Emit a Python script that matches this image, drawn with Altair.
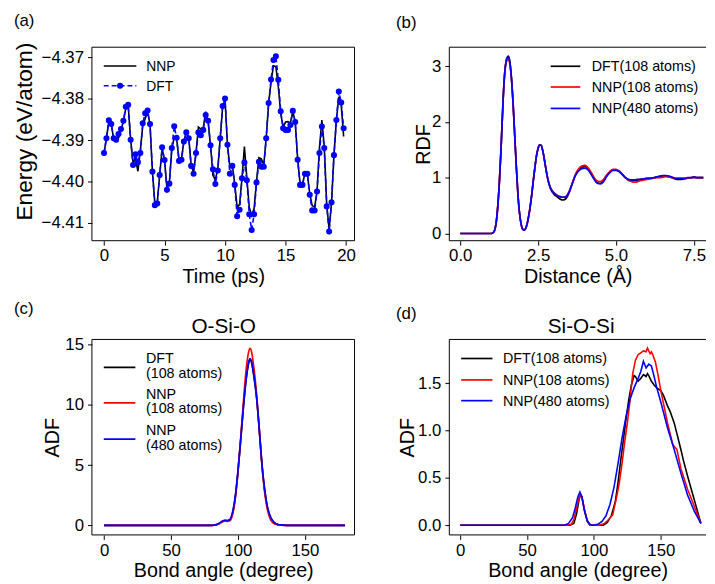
import altair as alt
import pandas as pd

FONT = "Liberation Sans"
BLACK, RED, BLUE = "#000000", "#ff0000", "#0000ff"

# ---------------- (a) energy trajectory ----------------
time_ps = [0.0, 0.2, 0.4, 0.6, 0.8, 1.0, 1.2, 1.4, 1.6, 1.8,
           2.0, 2.2, 2.4, 2.6, 2.8, 3.0, 3.2, 3.4, 3.6, 3.8,
           4.0, 4.2, 4.4, 4.6, 4.8, 5.0, 5.2, 5.4, 5.6, 5.8,
           6.0, 6.2, 6.4, 6.6, 6.8, 7.0, 7.2, 7.4, 7.6, 7.8,
           8.0, 8.2, 8.4, 8.6, 8.8, 9.0, 9.2, 9.4, 9.6, 9.8,
           10.0, 10.2, 10.4, 10.6, 10.8, 11.0, 11.2, 11.4, 11.6, 11.8,
           12.0, 12.2, 12.4, 12.6, 12.8, 13.0, 13.2, 13.4, 13.6, 13.8,
           14.0, 14.2, 14.4, 14.6, 14.8, 15.0, 15.2, 15.4, 15.6, 15.8,
           16.0, 16.2, 16.4, 16.6, 16.8, 17.0, 17.2, 17.4, 17.6, 17.8,
           18.0, 18.2, 18.4, 18.6, 18.8, 19.0, 19.2, 19.4, 19.6, 19.8]

energy_dft = [-4.3931, -4.3895, -4.3852, -4.3861, -4.3895, -4.3899, -4.3885, -4.3873, -4.3853, -4.3819,
              -4.3814, -4.3899, -4.3960, -4.3934, -4.3953, -4.3931, -4.3859, -4.3835, -4.3828, -4.3861,
              -4.3976, -4.4057, -4.4053, -4.3984, -4.3917, -4.3948, -4.4020, -4.4005, -4.3919, -4.3866,
              -4.3894, -4.3950, -4.3947, -4.3903, -4.3881, -4.3895, -4.3962, -4.3981, -4.3931, -4.3881,
              -4.3888, -4.3875, -4.3839, -4.3853, -4.3912, -4.3970, -4.4006, -4.3973, -4.3895, -4.3817,
              -4.3799, -4.3911, -4.3981, -4.3962, -4.4008, -4.4084, -4.4068, -4.3992, -4.3954, -4.3997,
              -4.4079, -4.4117, -4.4079, -4.4002, -4.3952, -4.3964, -4.3964, -4.3895, -4.3810, -4.3753,
              -4.3706, -4.3697, -4.3754, -4.3830, -4.3871, -4.3875, -4.3875, -4.3863, -4.3829, -4.3856,
              -4.3947, -4.4008, -4.4008, -4.3981, -4.3981, -4.4032, -4.4070, -4.4070, -4.4024, -4.3931,
              -4.3867, -4.3919, -4.4060, -4.4121, -4.4050, -4.3936, -4.3851, -4.3782, -4.3809, -4.3871]

energy_nnp = [-4.3931, -4.3895, -4.3855, -4.3862, -4.3897, -4.3903, -4.3895, -4.3875, -4.3855, -4.3822,
              -4.3818, -4.3899, -4.3955, -4.3945, -4.3975, -4.3925, -4.3865, -4.3848, -4.3832, -4.3861,
              -4.3976, -4.4052, -4.4050, -4.3984, -4.3920, -4.3948, -4.4015, -4.4002, -4.3922, -4.3893,
              -4.3897, -4.3948, -4.3945, -4.3903, -4.3881, -4.3893, -4.3960, -4.3978, -4.3931, -4.3868,
              -4.3873, -4.3870, -4.3831, -4.3855, -4.3912, -4.3985, -4.3995, -4.3970, -4.3895, -4.3820,
              -4.3802, -4.3911, -4.3965, -4.3960, -4.4005, -4.4062, -4.4055, -4.3992, -4.3915, -4.3990,
              -4.4062, -4.4082, -4.4065, -4.4000, -4.3942, -4.3945, -4.3960, -4.3895, -4.3812, -4.3760,
              -4.3720, -4.3722, -4.3770, -4.3835, -4.3868, -4.3856, -4.3855, -4.3858, -4.3830, -4.3856,
              -4.3945, -4.4005, -4.4005, -4.3981, -4.3981, -4.4030, -4.4058, -4.4062, -4.4024, -4.3918,
              -4.3851, -4.3915, -4.4055, -4.4115, -4.4050, -4.3936, -4.3851, -4.3795, -4.3815, -4.3891]

# ---------------- (b) RDF ----------------
r_grid = [0.0, 0.5, 1.0, 1.05, 1.1, 1.15, 1.2, 1.25, 1.3, 1.35, 1.4, 1.45, 1.5, 1.55, 1.6, 1.65,
          1.7, 1.75, 1.8, 1.85, 1.9, 1.95, 2.0, 2.05, 2.1, 2.15, 2.2, 2.25, 2.3, 2.35, 2.4, 2.45,
          2.5, 2.55, 2.6, 2.65, 2.7, 2.75, 2.8, 2.85, 2.9,
          3.0, 3.1, 3.2, 3.3, 3.4, 3.5, 3.6, 3.7, 3.8, 3.9,
          4.0, 4.1, 4.2, 4.3, 4.4, 4.5, 4.6, 4.7, 4.8, 4.9,
          5.0, 5.1, 5.2, 5.3, 5.4, 5.5, 5.6, 5.7, 5.8, 5.9,
          6.0, 6.1, 6.2, 6.3, 6.4, 6.5, 6.6, 6.7, 6.8, 6.9,
          7.0, 7.1, 7.2, 7.3, 7.4, 7.5, 7.6, 7.7, 7.8]

rdf_dft = [0, 0, 0, 0.01, 0.05, 0.18, 0.45, 0.85, 1.4, 2.05, 2.65, 3.0, 3.15, 3.18, 3.05, 2.75,
           2.3, 1.75, 1.2, 0.72, 0.38, 0.18, 0.08, 0.06, 0.09, 0.18, 0.32, 0.5, 0.72, 0.97, 1.2, 1.4,
           1.53, 1.59, 1.58, 1.48, 1.33, 1.16, 1.0, 0.88, 0.8,
           0.71, 0.66, 0.62, 0.6, 0.63, 0.74, 0.9, 1.05, 1.14, 1.19,
           1.2, 1.16, 1.08, 0.98, 0.91, 0.9, 0.95, 1.04, 1.1, 1.14,
           1.14, 1.11, 1.06, 1.0, 0.96, 0.95, 0.95, 0.96, 0.97, 0.98,
           0.99, 0.99, 1.0, 1.01, 1.02, 1.03, 1.03, 1.02, 1.0, 0.98,
           0.97, 0.97, 0.98, 0.99, 1.0, 1.01, 1.0, 1.0, 1.0]

rdf_nnp108 = [0, 0, 0, 0.01, 0.05, 0.18, 0.45, 0.85, 1.4, 2.05, 2.65, 3.0, 3.1, 3.12, 3.0, 2.72,
              2.28, 1.75, 1.2, 0.72, 0.38, 0.18, 0.08, 0.06, 0.09, 0.18, 0.32, 0.5, 0.72, 0.97, 1.2, 1.4,
              1.53, 1.59, 1.58, 1.48, 1.33, 1.16, 1.01, 0.9, 0.82,
              0.74, 0.69, 0.66, 0.65, 0.67, 0.76, 0.91, 1.06, 1.16, 1.21,
              1.22, 1.18, 1.1, 1.0, 0.94, 0.93, 0.97, 1.05, 1.11, 1.15,
              1.15, 1.12, 1.06, 1.0, 0.95, 0.93, 0.92, 0.93, 0.95, 0.96,
              0.97, 0.98, 0.99, 1.0, 1.0, 1.01, 1.02, 1.01, 1.0, 0.99,
              0.99, 0.99, 0.99, 0.99, 1.0, 1.0, 1.0, 1.0, 1.0]

rdf_nnp480 = [0, 0, 0, 0.01, 0.05, 0.18, 0.45, 0.85, 1.4, 2.05, 2.65, 3.0, 3.14, 3.16, 3.04, 2.74,
              2.3, 1.75, 1.2, 0.72, 0.38, 0.18, 0.08, 0.06, 0.09, 0.18, 0.32, 0.5, 0.72, 0.97, 1.2, 1.4,
              1.53, 1.59, 1.58, 1.48, 1.33, 1.16, 1.01, 0.89, 0.81,
              0.73, 0.68, 0.66, 0.65, 0.66, 0.75, 0.9, 1.04, 1.12, 1.16,
              1.17, 1.14, 1.06, 0.97, 0.9, 0.89, 0.93, 1.02, 1.09, 1.13,
              1.13, 1.11, 1.06, 1.0, 0.97, 0.96, 0.96, 0.97, 0.97, 0.98,
              0.99, 0.99, 1.0, 1.01, 1.03, 1.04, 1.04, 1.03, 1.01, 0.99,
              0.99, 0.99, 0.99, 1.0, 1.0, 1.01, 1.0, 1.0, 1.0]

# ---------------- (c) O-Si-O ADF ----------------
osio_angle = [0, 80, 82, 84, 86, 88, 90, 92, 94, 96, 98, 100, 102, 104, 106, 108, 109, 110,
              112, 114, 116, 118, 120, 122, 124, 126, 128, 130, 132, 134, 136, 180]
osio_dft = [0, 0, 0.02, 0.06, 0.15, 0.3, 0.4, 0.38, 0.45, 1.0, 2.3, 4.4, 7.0, 9.7, 12.0, 13.5, 13.8, 13.6,
            12.3, 10.5, 7.8, 5.0, 2.9, 1.5, 0.75, 0.35, 0.15, 0.06, 0.02, 0.01, 0, 0]
osio_nnp108 = [0, 0, 0.01, 0.04, 0.12, 0.25, 0.35, 0.32, 0.38, 0.9, 2.2, 4.4, 7.2, 10.1, 12.8, 14.4, 14.7, 14.5,
               13.0, 10.8, 7.9, 4.9, 2.7, 1.3, 0.55, 0.22, 0.08, 0.03, 0.01, 0, 0, 0]
osio_nnp480 = [0, 0, 0.02, 0.07, 0.17, 0.32, 0.42, 0.4, 0.48, 1.1, 2.4, 4.5, 7.0, 9.7, 12.0, 13.5, 13.85, 13.65,
               12.4, 10.6, 7.9, 5.0, 2.95, 1.55, 0.78, 0.37, 0.16, 0.07, 0.03, 0.01, 0, 0]

# ---------------- (d) Si-O-Si ADF ----------------
siosi_dft_angle = [0, 82, 85, 87, 89, 90, 91, 93, 95, 97, 107, 110, 113, 116, 118, 120, 122, 124,
                   126, 128, 130, 131, 133, 135, 137, 139, 140, 141, 143, 145, 147, 150, 152, 155,
                   157, 160, 162, 165, 167, 170, 173, 175, 178, 180]
siosi_dft = [0, 0, 0.02, 0.12, 0.28, 0.32, 0.3, 0.15, 0.04, 0, 0, 0.03, 0.1, 0.25, 0.45, 0.68, 0.9, 1.12,
             1.32, 1.48, 1.58, 1.57, 1.52, 1.55, 1.59, 1.57, 1.6, 1.58, 1.52, 1.48, 1.45, 1.42, 1.37, 1.26,
             1.2, 1.08, 0.97, 0.8, 0.68, 0.52, 0.37, 0.27, 0.12, 0.02]
siosi_nnp108_angle = [0, 80, 83, 85, 87, 89, 90, 91, 93, 95, 97, 104, 108, 111, 114, 117, 119, 121,
                      123, 125, 127, 129, 131, 133, 135, 137, 139, 140, 141, 142, 143, 144, 146, 148,
                      150, 155, 159, 162, 165, 170, 175, 180]
siosi_nnp108 = [0, 0, 0.01, 0.06, 0.18, 0.3, 0.32, 0.3, 0.16, 0.05, 0, 0, 0.02, 0.06, 0.11, 0.3, 0.45, 0.65,
                0.88, 1.08, 1.32, 1.6, 1.74, 1.8, 1.82, 1.84, 1.83, 1.87, 1.84, 1.81, 1.83, 1.8, 1.72, 1.58,
                1.42, 1.08, 0.85, 0.8, 0.6, 0.38, 0.2, 0.02]
siosi_nnp480_angle = [0, 78, 81, 84, 86, 88, 89.5, 91, 93, 95, 97, 99, 103, 106, 109, 112, 115, 118,
                      121, 124, 127, 130, 133, 135, 137, 139, 141, 143, 145, 147, 150, 155, 160, 165,
                      170, 175, 180]
siosi_nnp480 = [0, 0, 0.02, 0.08, 0.18, 0.3, 0.35, 0.3, 0.15, 0.05, 0.01, 0, 0.01, 0.04, 0.1, 0.22, 0.4, 0.65,
                0.92, 1.15, 1.33, 1.45, 1.55, 1.62, 1.73, 1.66, 1.7, 1.68, 1.57, 1.45, 1.3, 1.03, 0.8, 0.55,
                0.32, 0.15, 0.02]

series_names = ["DFT(108 atoms)", "NNP(108 atoms)", "NNP(480 atoms)"]
series_colors = [BLACK, RED, BLUE]

# ---------------- helpers ----------------
dummy = pd.DataFrame({"k": [0]})


def frame(xs, ys):
    return pd.DataFrame({"x": xs, "y": ys})


def xy_enc(xdom, ydom, xvals, yvals, xtitle, ytitle, xfmt=None, yfmt=None,
           ytitle_pad=5, ytitle_size=20, ytitle_y=None):
    xa = dict(values=xvals, title=xtitle, titlePadding=3, labelPadding=3)
    if xfmt:
        xa["format"] = xfmt
    ya = dict(values=yvals, title=ytitle, titlePadding=ytitle_pad, labelPadding=4,
              titleFontSize=ytitle_size)
    if yfmt:
        ya["format"] = yfmt
    if ytitle_y is not None:
        ya["titleY"] = ytitle_y
    x = alt.X("x:Q", scale=alt.Scale(domain=xdom, nice=False, zero=False), axis=alt.Axis(**xa))
    y = alt.Y("y:Q", scale=alt.Scale(domain=ydom, nice=False, zero=False), axis=alt.Axis(**ya))
    return x, y


def curve(df, color, x, y, interp="monotone", width=1.7, dash=None):
    kw = dict(color=color, strokeWidth=width, interpolate=interp, clip=True)
    if dash:
        kw["strokeDash"] = dash
    return alt.Chart(df).mark_line(**kw).encode(x=x, y=y)


def hrule(x1, x2, y, color=BLACK, width=1.7, dash=None):
    kw = dict(color=color, strokeWidth=width)
    if dash:
        kw["strokeDash"] = dash
    return alt.Chart(dummy).mark_rule(**kw).encode(x=alt.value(x1), x2=alt.value(x2), y=alt.value(y))


def vrule(x, y1, y2, color=BLACK, width=1):
    return alt.Chart(dummy).mark_rule(color=color, strokeWidth=width).encode(
        x=alt.value(x), y=alt.value(y1), y2=alt.value(y2))


def txt(x, y, s, size=14.5, align="left", baseline="middle"):
    return alt.Chart(dummy).mark_text(text=s, align=align, baseline=baseline, font=FONT,
                                      fontSize=size, color=BLACK).encode(x=alt.value(x), y=alt.value(y))


def box(w, h, right=True):
    parts = [hrule(0, w, 0, width=1), hrule(0, w, h, width=1), vrule(0, 0, h)]
    if right:
        parts.append(vrule(w, 0, h))
    return parts


# ---------------- panel (a) ----------------
WA, HA = 266, 196
xa, ya = xy_enc([-1.0, 20.7], [-4.4143, -4.3675], [0, 5, 10, 15, 20],
                [-4.41, -4.40, -4.39, -4.38, -4.37], "Time (ps)", "Energy (eV/atom)",
                yfmt=".2f", ytitle_pad=5, ytitle_size=23, ytitle_y=85)
df_nnp = frame(time_ps, energy_nnp)
df_dft = frame(time_ps, energy_dft)
pa = alt.layer(
    curve(df_nnp, BLACK, xa, ya, interp="linear", width=1.6),
    curve(df_dft, BLUE, xa, ya, interp="linear", width=1.6, dash=[5, 3]),
    alt.Chart(df_dft).mark_point(filled=True, shape="circle", size=38, color=BLUE, opacity=1).encode(x=xa, y=ya),
    hrule(12, 45, 19, BLACK, 1.6),
    hrule(12, 45, 39, BLUE, 1.6, dash=[5, 3]),
    alt.Chart(dummy).mark_point(filled=True, shape="circle", size=38, color=BLUE, opacity=1).encode(
        x=alt.value(28.5), y=alt.value(39)),
    txt(55, 20.5, "NNP", 14),
    txt(55, 40.5, "DFT", 14),
    txt(-79, -26.5, "(a)", 17),
    *box(WA, HA),
).properties(width=WA, height=HA)

# ---------------- panel (b) ----------------
WB, HB = 260, 196
xb, yb = xy_enc([-0.35, 7.888], [-0.13, 3.34], [0, 2.5, 5, 7.5], [0, 1, 2, 3],
                "Distance (Å)", "RDF", xfmt=".1f", ytitle_pad=-2)
rdf_sets = [rdf_dft, rdf_nnp108, rdf_nnp480]
pb = alt.layer(
    *[curve(frame(r_grid, v), c, xb, yb) for v, c in zip(rdf_sets, series_colors)],
    *[hrule(102.7, 132.7, yy, c) for yy, c in zip([19.3, 40.3, 62], series_colors)],
    *[txt(144.3, yy, s) for yy, s in zip([20.3, 41.3, 63], series_names)],
    txt(-54, -24, "(b)", 17),
    *box(WB, HB, right=False),
).properties(width=WB, height=HB)

# ---------------- panel (c) ----------------
WC, HC = 266, 198
xc, yc = xy_enc([-9.07, 187.1], [-0.8, 15.43], [0, 50, 100, 150], [0, 5, 10, 15],
                "Bond angle (degree)", "ADF", ytitle_pad=2)
osio_sets = [osio_dft, osio_nnp108, osio_nnp480]
pc = alt.layer(
    *[curve(frame(osio_angle, v), c, xc, yc) for v, c in zip(osio_sets, series_colors)],
    *[hrule(12, 44, yy, c) for yy, c in zip([28.3, 64.3, 101], series_colors)],
    txt(54.7, 19.8, "DFT"), txt(54.7, 34.8, "(108 atoms)"),
    txt(54.7, 56, "NNP"), txt(54.7, 71, "(108 atoms)"),
    txt(54.7, 92.7, "NNP"), txt(54.7, 107.7, "(480 atoms)"),
    txt(-79, -30.5, "(c)", 17),
    txt(133.5, -7, "O-Si-O", 21, align="center", baseline="alphabetic"),
    *box(WC, HC),
).properties(width=WC, height=HC)

# ---------------- panel (d) ----------------
WD, HD = 260, 198
xd, yd = xy_enc([-8.12, 183.8], [-0.102, 1.961], [0, 50, 100, 150], [0, 0.5, 1.0, 1.5],
                "Bond angle (degree)", "ADF", yfmt=".1f", ytitle_pad=0)
siosi_sets = [(siosi_dft_angle, siosi_dft), (siosi_nnp108_angle, siosi_nnp108),
              (siosi_nnp480_angle, siosi_nnp480)]
pd_ = alt.layer(
    *[curve(frame(a, v), c, xd, yd, interp="linear", width=1.6) for (a, v), c in zip(siosi_sets, series_colors)],
    *[hrule(12, 43.7, yy, c) for yy, c in zip([19.3, 41, 62], series_colors)],
    *[txt(54.3, yy, s) for yy, s in zip([20.3, 42, 63], series_names)],
    txt(-54, -25.5, "(d)", 17),
    txt(133.5, -7, "Si-O-Si", 21, align="center", baseline="alphabetic"),
    *box(WD, HD, right=False),
).properties(width=WD, height=HD)

chart = alt.concat(
    pa, pb, pc, pd_, columns=2,
    spacing={"row": 100, "column": 96}, bounds="flush",
).properties(
    padding={"left": 5, "top": 0, "right": 0, "bottom": 0}
).configure_view(
    strokeWidth=0
).configure_axis(
    labelFont=FONT, labelFontSize=17, labelColor=BLACK,
    titleFont=FONT, titleFontSize=20, titleColor=BLACK, titleFontWeight="normal",
    tickColor=BLACK, tickSize=4.5, tickWidth=1, domain=False, grid=False,
    labelFlush=False, labelOverlap=False,
)

chart.save("out.html", embed_options={"renderer": "svg", "actions": False})
